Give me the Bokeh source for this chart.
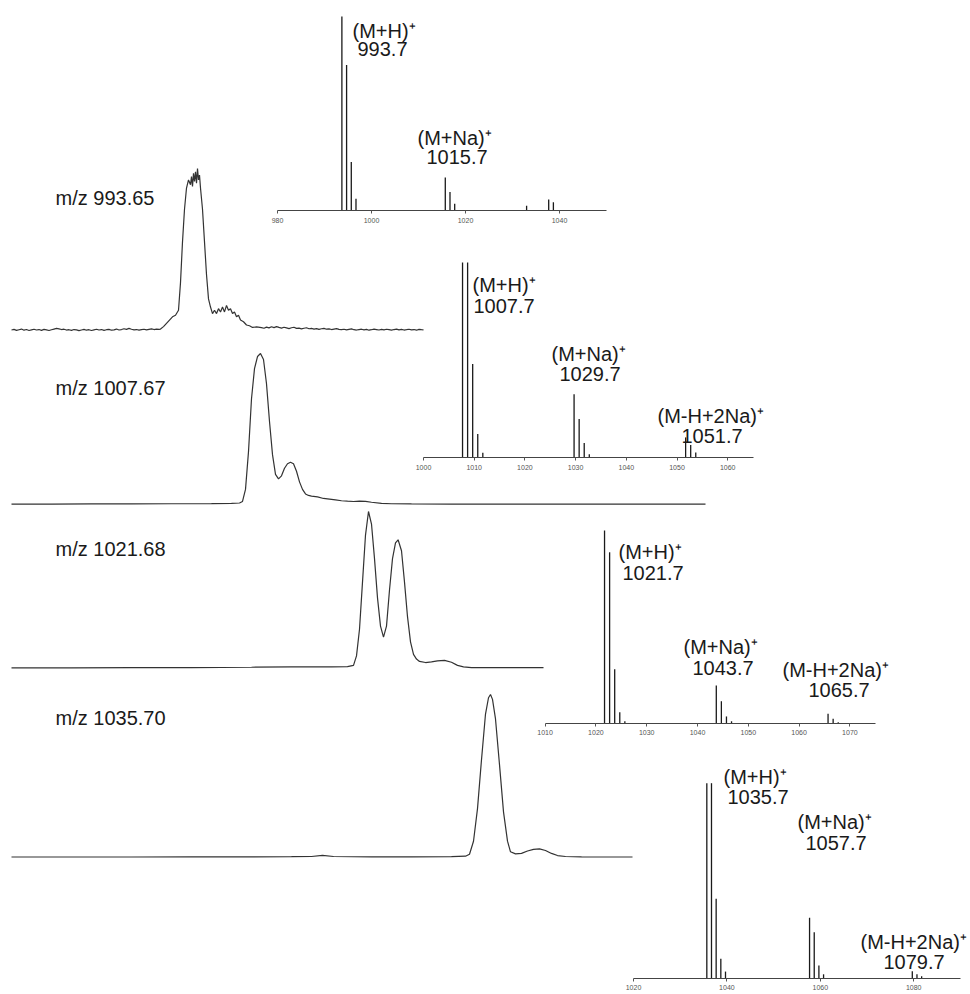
import numpy as np
from bokeh.plotting import figure
from bokeh.models import Range1d, LinearAxis, FixedTicker, ColumnDataSource
from bokeh.core.properties import value
from bokeh.embed import file_html
from bokeh.resources import INLINE

W, H = 970, 994

# ---------------- DATA ----------------
# Extracted-ion chromatograms (retention time in min, relative intensity in %)
chrom_names = ["m/z 993.65", "m/z 1007.67", "m/z 1021.68", "m/z 1035.70"]

c1_t = [0, 0.125, 0.25, 0.375, 0.5, 0.625, 0.75, 0.875, 1.0, 1.125, 1.25, 1.375, 1.5, 1.625, 1.75, 1.875,
        2.0, 2.125, 2.25, 2.375, 2.5, 2.625, 2.75, 2.875, 3.0, 3.125, 3.25, 3.375, 3.5, 3.625, 3.75, 3.875,
        4.0, 4.125, 4.25, 4.375, 4.5, 4.625, 4.75, 4.875, 5.0, 5.125, 5.25, 5.375, 5.5, 5.625, 5.75, 5.875,
        6.0, 6.125, 6.25, 6.375, 6.5, 6.625, 6.75, 6.875, 7.0, 7.125, 7.25, 7.375,
        7.45, 7.6, 7.75, 7.9, 8.05, 8.2, 8.35, 8.45, 8.55, 8.65, 8.75, 8.85, 8.95, 9.0, 9.05, 9.1, 9.15, 9.2, 9.25, 9.3,
        9.35, 9.4, 9.45, 9.55, 9.65, 9.75, 9.85, 9.95, 10.05, 10.15, 10.25, 10.35, 10.45, 10.55, 10.65, 10.75, 10.85,
        10.95, 11.05, 11.15, 11.25, 11.35, 11.45, 11.6, 11.75, 11.9, 12.05, 12.25,
        12.5, 12.625, 12.75, 12.875, 13.0, 13.125, 13.25, 13.375, 13.5, 13.625, 13.75, 13.875, 14.0, 14.125,
        14.25, 14.375, 14.5, 14.625, 14.75, 14.875, 15.0, 15.125, 15.25, 15.375, 15.5, 15.625, 15.75, 15.875,
        16.0, 16.125, 16.25, 16.375, 16.5, 16.625, 16.75, 16.875, 17.0, 17.125, 17.25, 17.375, 17.5, 17.625,
        17.75, 17.875, 18.0, 18.125, 18.25, 18.375, 18.5, 18.625, 18.75, 18.875, 19.0, 19.125, 19.25, 19.375,
        19.5, 19.625, 19.75, 19.875, 20.0, 20.125, 20.25, 20.375, 20.5, 20.6]
c1_i = [0.9, 1.3, 0.7, 1.1, 1.5, 0.8, 1.2, 0.6, 1.0, 1.4, 0.9, 1.2, 0.7, 1.3, 1.0, 0.6,
        1.1, 1.5, 1.9, 1.6, 1.2, 1.4, 0.9, 1.1, 0.7, 1.2, 1.0, 0.5, 0.9, 1.3, 0.8, 1.1,
        0.6, 1.0, 1.4, 0.9, 1.2, 0.7, 1.1, 1.3, 0.8, 1.0, 1.5, 0.9, 1.2, 1.7, 1.3, 1.9,
        1.4, 1.0, 1.2, 0.8, 1.1, 1.4, 1.0, 1.3, 1.6, 1.2, 1.5, 1.3,
        1.5, 3, 5, 7, 9, 10, 13, 30, 55, 75, 88, 93, 90, 95, 89, 97, 92, 98, 91, 100,
        93, 96, 88, 75, 55, 35, 20, 15, 11, 13, 11, 14, 12, 15, 12, 16, 13,
        14, 11, 12, 9, 10, 7, 6, 4, 3.5, 2.5, 2.8,
        2.4, 2.0, 2.7, 2.2, 2.9, 2.4, 3.0, 2.5, 2.1, 2.6, 2.2, 1.8, 2.3, 2.6,
        1.9, 2.1, 1.6, 2.0, 2.3, 1.7, 1.9, 1.5, 1.8, 1.3, 1.7, 1.9, 1.4, 1.6,
        1.2, 1.5, 1.8, 1.3, 1.1, 1.4, 1.0, 1.3, 1.6, 1.1, 0.9, 1.2, 1.4, 1.0,
        1.3, 0.8, 1.1, 1.5, 1.2, 0.9, 1.3, 1.0, 1.4, 1.1, 0.8, 1.2, 1.5, 1.0,
        1.3, 0.9, 1.1, 1.4, 1.0, 1.2, 0.8, 1.3, 1.1, 1.0]

c2_t = [0, 2, 4, 6, 8, 10, 11.0, 11.4, 11.55, 11.7, 11.85, 12.0, 12.15, 12.3, 12.45, 12.6, 12.75, 12.9, 13.05, 13.2,
        13.35, 13.5, 13.65, 13.8, 13.95, 14.1, 14.25, 14.4, 14.55, 14.7, 14.85, 15.0, 15.3, 15.6, 15.9, 16.2, 16.5,
        16.8, 17.1, 17.4, 17.7, 18.0, 18.5, 19, 20, 22, 25, 28, 31, 34.7]
c2_i = [0.3, 0.3, 0.4, 0.4, 0.5, 0.6, 0.7, 1.0, 2, 10, 35, 70, 90, 98, 100, 96, 80, 55, 33, 20,
        17, 19, 24, 27, 28, 27, 22, 15, 10, 7, 6, 5.5, 5, 4, 3.5, 3, 2.5,
        2.2, 2.0, 2.3, 2.1, 1.5, 0.8, 0.5, 0.4, 0.3, 0.3, 0.3, 0.3, 0.3]

c3_t = [0, 3, 6, 9, 12, 14, 16, 16.8, 17.1, 17.25, 17.4, 17.55, 17.7, 17.85, 18.0, 18.15, 18.3, 18.45, 18.6, 18.75,
        18.9, 19.05, 19.2, 19.33, 19.5, 19.65, 19.8, 19.95, 20.1, 20.25, 20.4, 20.7, 21.0, 21.3, 21.65, 22.0, 22.3,
        22.6, 23.0, 24.0, 25.0, 26.6]
c3_i = [0.4, 0.4, 0.5, 0.6, 0.8, 1.0, 1.0, 1.2, 2, 8, 25, 55, 85, 100, 92, 70, 45, 27, 20, 27,
        50, 70, 80, 82, 75, 55, 33, 17, 9, 6, 4.5, 3.8, 4.2, 4.8, 5.2, 4.0, 2.0,
        1.0, 0.6, 0.5, 0.5, 0.5]

c4_t = [0, 3, 6, 9, 12, 14, 15.0, 15.55, 16.1, 18, 20, 22, 22.7, 22.9, 23.1, 23.3, 23.5, 23.7, 23.85, 23.95,
        24.05, 24.2, 24.4, 24.6, 24.8, 24.95, 25.2, 25.5, 25.8, 26.1, 26.4, 26.7, 27.0, 27.3, 27.7, 28.5, 30, 31.05]
c4_i = [0.3, 0.3, 0.3, 0.4, 0.4, 0.5, 0.6, 1.3, 0.6, 0.4, 0.4, 0.5, 0.8, 2, 10, 30, 60, 88, 98, 100,
        97, 85, 57, 28, 10, 3.5, 2.2, 2.5, 4, 5, 5.3, 4.3, 2.5, 1.2, 0.6, 0.4, 0.3, 0.3]

# Mass spectra (m/z, relative intensity %)
s1_mz = [993.7, 994.7, 995.7, 996.7, 1015.7, 1016.7, 1017.7, 1033.0, 1037.7, 1038.7]
s1_in = [100, 75, 25, 6, 17, 9.5, 3.5, 2.5, 5.7, 4.3]
s1_ticks = [980, 1000, 1020, 1040]

s2_mz = [1007.7, 1008.7, 1009.7, 1010.7, 1011.7, 1029.7, 1030.7, 1031.7, 1032.7, 1051.7, 1052.7, 1053.7]
s2_in = [100, 100, 48, 12, 2.5, 32.5, 19.7, 7.4, 1.7, 10.3, 6.4, 2.6]
s2_ticks = [1000, 1010, 1020, 1030, 1040, 1050, 1060]

s3_mz = [1021.7, 1022.7, 1023.7, 1024.7, 1025.7, 1043.7, 1044.7, 1045.7, 1046.7, 1065.7, 1066.7, 1067.7]
s3_in = [100, 88.7, 28, 5.7, 1, 19.6, 11.4, 3.5, 1, 4.9, 2.3, 0.5]
s3_ticks = [1010, 1020, 1030, 1040, 1050, 1060, 1070]

s4_mz = [1035.7, 1036.7, 1037.7, 1038.7, 1039.7, 1057.7, 1058.7, 1059.7, 1060.7, 1079.7, 1080.7, 1081.7]
s4_in = [100, 100, 40.7, 10, 3.4, 31, 23.6, 6.5, 2, 3.6, 2, 1]
s4_ticks = [1020, 1040, 1060, 1080]

ion_labels = [["(M+H)⁺", "993.7", "(M+Na)⁺", "1015.7"],
              ["(M+H)⁺", "1007.7", "(M+Na)⁺", "1029.7", "(M-H+2Na)⁺", "1051.7"],
              ["(M+H)⁺", "1021.7", "(M+Na)⁺", "1043.7", "(M-H+2Na)⁺", "1065.7"],
              ["(M+H)⁺", "1035.7", "(M+Na)⁺", "1057.7", "(M-H+2Na)⁺", "1079.7"]]

# ---------------- LAYOUT (page pixels, y from top) ----------------
def lin_range(va, pa, vb, pb, total):
    k = (vb - va) / (pb - pa)
    return Range1d(va - pa * k, va + (total - pa) * k)

def xr(va, pa, vb, pb):
    return lin_range(va, pa, vb, pb, W)

def yr(base_px, top_px):
    return lin_range(0, H - base_px, 100, H - top_px, H)

chrom_geom = [(331, 168), (504, 353), (668, 511), (857, 694)]          # baseline, 100% (px)
chrom_label_pos = [(55, 197), (55, 387), (55, 548), (55, 717)]

spec_geom = [  # (mz_a, px_a, px_per_unit, base_px, top_px, bounds)
    (980, 277, 4.70, 210, 16, (980, 1050)),
    (1000, 423, 5.07, 457, 262, (1000, 1065)),
    (1010, 544.6, 5.08, 722.7, 530, (1010, 1075)),
    (1020, 633, 4.67, 977.7, 782.7, (1020, 1090)),
]
label_pos = [
    [(352, 30), (357, 48), (417, 137), (426, 156)],
    [(472, 284), (473, 305), (551, 353), (559, 373), (657, 415), (681, 435)],
    [(618, 551), (622, 572), (683, 646), (692, 667), (782, 669), (808, 689)],
    [(723, 776), (727, 796), (797, 821), (805, 842), (860, 941), (883, 961)],
]

p = figure(width=W, height=H, output_backend="svg", toolbar_location=None,
           x_range=Range1d(0, W), y_range=Range1d(H, 0),
           x_axis_type=None, y_axis_type=None, min_border=0)
p.outline_line_color = None
p.background_fill_color = "white"
p.border_fill_color = "white"

p.extra_x_ranges["rt"] = xr(0, 11, 1, 31)   # 20 px per min, t=0 at px 11

chrom_t = [c1_t, c2_t, c3_t, c4_t]
chrom_i = [c1_i, c2_i, c3_i, c4_i]
FONT = value("Liberation Sans")

for k in range(4):
    base, top = chrom_geom[k]
    yn = f"c{k}"
    p.extra_y_ranges[yn] = yr(base, top)
    p.line(chrom_t[k], chrom_i[k], x_range_name="rt", y_range_name=yn,
           line_color="#333333", line_width=1.2)
    lx, ly = chrom_label_pos[k]
    p.text(x=[lx], y=[ly], text=[chrom_names[k]], text_font=FONT, text_font_size="20px",
           text_align="left", text_baseline="middle", text_color="#1a1a1a")

spec_mz = [s1_mz, s2_mz, s3_mz, s4_mz]
spec_in = [s1_in, s2_in, s3_in, s4_in]
spec_ticks = [s1_ticks, s2_ticks, s3_ticks, s4_ticks]

for k in range(4):
    mz_a, px_a, ppu, base, top, bounds = spec_geom[k]
    xn, yn = f"s{k}x", f"s{k}y"
    p.extra_x_ranges[xn] = xr(mz_a, px_a, mz_a + 10, px_a + 10 * ppu)
    p.extra_y_ranges[yn] = yr(base, top)
    src = ColumnDataSource(dict(mz=spec_mz[k], base=[0] * len(spec_mz[k]), inten=spec_in[k]))
    p.segment(x0="mz", y0="base", x1="mz", y1="inten", source=src,
              x_range_name=xn, y_range_name=yn, line_color="#1a1a1a", line_width=1.3)
    ax = LinearAxis(x_range_name=xn, y_range_name=yn, fixed_location=0, bounds=bounds,
                    ticker=FixedTicker(ticks=spec_ticks[k]))
    ax.axis_line_color = "#444444"
    ax.axis_line_width = 1
    ax.major_tick_line_color = "#555555"
    ax.major_tick_out = 3
    ax.major_tick_in = 0
    ax.minor_tick_line_color = None
    ax.major_label_text_font = "Liberation Sans"
    ax.major_label_text_font_size = "7px"
    ax.major_label_text_color = "#555555"
    ax.major_label_standoff = 4
    p.add_layout(ax, "below")

    labs = ion_labels[k]
    pos = label_pos[k]
    p.text(x=[q[0] for q in pos], y=[q[1] for q in pos], text=labs, text_font=FONT,
           text_font_size="20px", text_align="left", text_baseline="middle", text_color="#1a1a1a")

open("out.html", "w").write(file_html(p, INLINE))
